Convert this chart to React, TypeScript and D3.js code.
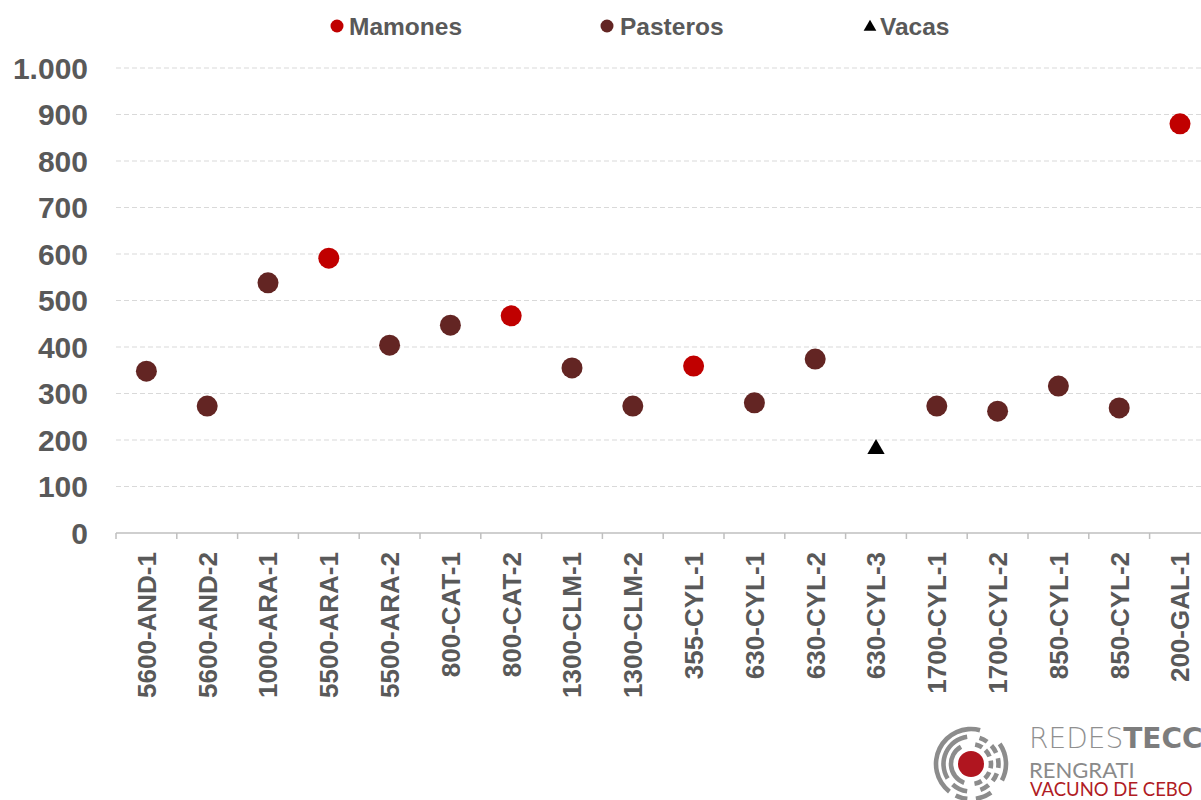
import React from "react";
import * as d3 from "d3";

const categories = [
  "5600-AND-1", "5600-AND-2", "1000-ARA-1", "5500-ARA-1", "5500-ARA-2", "800-CAT-1",
  "800-CAT-2", "1300-CLM-1", "1300-CLM-2", "355-CYL-1", "630-CYL-1", "630-CYL-2",
  "630-CYL-3", "1700-CYL-1", "1700-CYL-2", "850-CYL-1", "850-CYL-2", "200-GAL-1",
];

const mamones: { cat: string; value: number }[] = [
  { cat: "5500-ARA-1", value: 591 },
  { cat: "800-CAT-2", value: 467 },
  { cat: "355-CYL-1", value: 359 },
  { cat: "200-GAL-1", value: 880 },
];

const pasteros: { cat: string; value: number }[] = [
  { cat: "5600-AND-1", value: 348 },
  { cat: "5600-AND-2", value: 273 },
  { cat: "1000-ARA-1", value: 538 },
  { cat: "5500-ARA-2", value: 404 },
  { cat: "800-CAT-1", value: 447 },
  { cat: "1300-CLM-1", value: 355 },
  { cat: "1300-CLM-2", value: 273 },
  { cat: "630-CYL-1", value: 280 },
  { cat: "630-CYL-2", value: 374 },
  { cat: "1700-CYL-1", value: 273 },
  { cat: "1700-CYL-2", value: 262 },
  { cat: "850-CYL-1", value: 316 },
  { cat: "850-CYL-2", value: 269 },
];

const vacas: { cat: string; value: number }[] = [{ cat: "630-CYL-3", value: 185 }];

const yTicks = [0, 100, 200, 300, 400, 500, 600, 700, 800, 900, 1000];

const COLOR_MAM = "#C00000";
const COLOR_PAS = "#632523";
const TEXT = "#595959";
const FONT = "'Liberation Sans', Arial, Helvetica, sans-serif";

// logo ring segments (degrees, 0 = top, clockwise)
const logoRings: { r: number; segs: [number, number][] }[] = [
  { r: 20, segs: [[12, 34], [46, 68], [80, 102], [114, 136], [148, 170], [200, 330]] },
  { r: 27.5, segs: [[18, 36], [48, 66], [78, 98], [110, 128], [140, 160], [188, 222], [238, 352]] },
  { r: 35, segs: [[55, 118], [145, 172], [186, 206], [218, 375]] },
];

export default function App() {
  const W = 1201;
  const H = 800;
  const left = 116;
  const bandW = 60.8;
  const x = d3
    .scaleBand<string>()
    .domain(categories)
    .range([left, left + bandW * categories.length])
    .padding(0);
  const y = d3.scaleLinear().domain([0, 1000]).range([533, 68]);
  const fmt = (v: number) => (v >= 1000 ? d3.format(",")(v).replace(",", ".") : String(v));
  const cx = (c: string) => (x(c) as number) + x.bandwidth() / 2;
  const tri = d3.symbol().type(d3.symbolTriangle).size(130);
  const triSmall = d3.symbol().type(d3.symbolTriangle).size(70);

  const lcx = 971;
  const lcy = 764;
  const rad = (deg: number) => (deg * Math.PI) / 180;

  return (
    <svg
      width={W}
      height={H}
      style={{ position: "absolute", left: 0, top: 0, display: "block", background: "#fff" }}
      fontFamily={FONT}
    >
      {/* gridlines */}
      {yTicks
        .filter((t) => t > 0)
        .map((t) => (
          <line
            key={"g" + t}
            x1={left}
            x2={W}
            y1={y(t)}
            y2={y(t)}
            stroke="#d9d9d9"
            strokeWidth={1}
            strokeDasharray="5 3"
          />
        ))}
      {/* x axis */}
      <line x1={left} x2={W} y1={y(0)} y2={y(0)} stroke="#bfbfbf" strokeWidth={1.5} />
      {categories.map((c) => (
        <line
          key={"t" + c}
          x1={x(c) as number}
          x2={x(c) as number}
          y1={y(0)}
          y2={y(0) + 6}
          stroke="#bfbfbf"
          strokeWidth={1.5}
        />
      ))}
      {/* y labels */}
      {yTicks.map((t) => (
        <text
          key={"y" + t}
          x={88}
          y={y(t)}
          dy="0.36em"
          textAnchor="end"
          fontSize={30}
          fontWeight="bold"
          fill={TEXT}
        >
          {fmt(t)}
        </text>
      ))}
      {/* x labels */}
      {categories.map((c) => (
        <text
          key={"x" + c}
          transform={`translate(${cx(c)},552) rotate(-90)`}
          dy="0.36em"
          textAnchor="end"
          fontSize={26}
          fontWeight="bold"
          fill={TEXT}
        >
          {c}
        </text>
      ))}
      {/* points */}
      {pasteros.map((d) => (
        <circle key={"p" + d.cat} cx={cx(d.cat)} cy={y(d.value)} r={10.5} fill={COLOR_PAS} />
      ))}
      {mamones.map((d) => (
        <circle key={"m" + d.cat} cx={cx(d.cat)} cy={y(d.value)} r={10.5} fill={COLOR_MAM} />
      ))}
      {vacas.map((d) => (
        <path
          key={"v" + d.cat}
          d={tri() as string}
          transform={`translate(${cx(d.cat)},${y(d.value) + 2})`}
          fill="#000"
        />
      ))}
      {/* legend */}
      <g fontSize={24.5} fontWeight="bold" fill={TEXT}>
        <circle cx={337} cy={26} r={6.5} fill={COLOR_MAM} />
        <text x={349} y={34.5}>Mamones</text>
        <circle cx={607} cy={26} r={6.5} fill={COLOR_PAS} />
        <text x={620} y={34.5}>Pasteros</text>
        <path d={triSmall() as string} transform="translate(870,27)" fill="#000" />
        <text x={880} y={34.5}>Vacas</text>
      </g>
      {/* logo */}
      <g>
        {logoRings.map((ring, i) =>
          ring.segs.map((s, j) => (
            <path
              key={`r${i}-${j}`}
              transform={`translate(${lcx},${lcy})`}
              d={
                d3.arc()({
                  innerRadius: ring.r - 2.3,
                  outerRadius: ring.r + 2.3,
                  startAngle: rad(s[0]),
                  endAngle: rad(s[1]),
                }) as string
              }
              fill="#8c8c8c"
            />
          ))
        )}
        <circle cx={lcx} cy={lcy} r={13} fill="#b0151f" />
        <text x={1029} y={748} fontSize={28} fontFamily="'DejaVu Sans', sans-serif" fill="#8f8f8f">
          <tspan fontWeight={200}>REDES</tspan>
          <tspan fontWeight={700} fill="#7d7d7d">TECC</tspan>
        </text>
        <text x={1029} y={778} fontSize={22} fontWeight={400} fontFamily="Lato, 'Open Sans', sans-serif" fill="#8a8a8a">
          RENGRATI
        </text>
        <text x={1030} y={796} fontSize={18.5} fontWeight={400} fontFamily="Lato, 'Open Sans', sans-serif" fill="#b01c24">
          VACUNO DE CEBO
        </text>
      </g>
    </svg>
  );
}
